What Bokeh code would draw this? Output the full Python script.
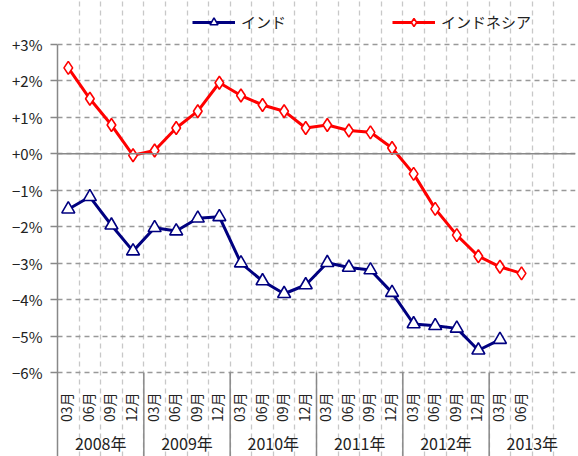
import math
from bokeh.plotting import figure
from bokeh.models import (LinearAxis, FixedTicker, Legend, LegendItem, Span, Range1d, ColumnDataSource)
from bokeh.core.properties import value
from bokeh.embed import file_html
from bokeh.resources import INLINE

# ---- data ----
years = ["2008年", "2009年", "2010年", "2011年", "2012年", "2013年"]
months = ["03月", "06月", "09月", "12月"]
month_labels = months * 5 + ["03月", "06月", "", ""]
india = [-1.52, -1.18, -1.96, -2.67, -2.03, -2.12, -1.77, -1.73,
         -3.00, -3.49, -3.84, -3.60, -2.99, -3.12, -3.19, -3.81,
         -4.67, -4.72, -4.79, -5.39, -5.10]
indonesia = [2.36, 1.51, 0.79, -0.04, 0.09, 0.71, 1.17, 1.95,
             1.60, 1.34, 1.17, 0.71, 0.79, 0.64, 0.59, 0.16,
             -0.55, -1.51, -2.23, -2.81, -3.10, -3.28]
y_ticks = [3, 2, 1, 0, -1, -2, -3, -4, -5, -6]
y_tick_labels = ["+3%", "+2%", "+1%", "+0%", "−1%", "−2%", "−3%", "−4%", "−5%", "−6%"]

FONT = "Noto Sans CJK JP"
n_cat = len(month_labels)
Y_TOP, Y_MIN = 3, -6
PX_PER_UNIT = 36.44
FRAME_H = 456
TOP_PAD = 44
Y_RANGE_TOP = Y_TOP + TOP_PAD / PX_PER_UNIT                 # legend area above +3%
Y_BOTTOM = Y_RANGE_TOP - FRAME_H / PX_PER_UNIT              # label area below -6%

p = figure(width=578, height=456, output_backend="svg", toolbar_location=None,
           x_range=Range1d(0, n_cat), y_range=Range1d(Y_BOTTOM, Y_RANGE_TOP),
           x_axis_location=None, y_axis_location=None,
           min_border_left=57, min_border_right=3, min_border_top=0, min_border_bottom=0)
p.outline_line_color = None
p.background_fill_color = "white"

# grids
p.xgrid.ticker = FixedTicker(ticks=list(range(n_cat + 1)))
p.xgrid.bounds = (Y_MIN, Y_TOP)
p.xgrid.grid_line_color = "#c8c8c8"
p.xgrid.grid_line_dash = "5 4"
p.xgrid.grid_line_width = 1.3
p.ygrid.ticker = FixedTicker(ticks=y_ticks)
p.ygrid.grid_line_color = "#999999"
p.ygrid.grid_line_dash = "5 4"
p.ygrid.grid_line_width = 1.3

p.add_layout(Span(location=0, dimension="width", line_color="#888888", line_width=1.5))

# y axis
yax = LinearAxis(ticker=FixedTicker(ticks=y_ticks), bounds=(Y_BOTTOM, Y_TOP),
                 major_label_overrides={t: l for t, l in zip(y_ticks, y_tick_labels)})
yax.axis_line_color = "#888888"
yax.axis_line_width = 1.5
yax.major_tick_line_color = "#888888"
yax.major_tick_line_width = 1.3
yax.major_tick_out = 7
yax.major_tick_in = 0
yax.minor_tick_line_color = None
yax.major_label_standoff = 8
yax.major_label_text_font = FONT
yax.major_label_text_font_size = "15px"
yax.major_label_text_color = "#222222"
p.add_layout(yax, "left")

# year separators in the label area
sep_x = list(range(4, n_cat, 4))
p.segment(x0=sep_x, y0=[Y_MIN] * len(sep_x), x1=sep_x, y1=[Y_BOTTOM] * len(sep_x),
          line_color="#888888", line_width=1.5)

# month labels (vertical, reading upwards)
month_src = ColumnDataSource(dict(x=[i + 0.5 for i in range(n_cat)],
                                  y=[Y_MIN - 20 / PX_PER_UNIT] * n_cat,
                                  t=month_labels))
p.text(x="x", y="y", text="t", source=month_src, angle=math.pi / 2,
       text_align="right", text_baseline="middle", x_offset=-2,
       text_font=value(FONT), text_font_size="14px", text_color="#222222")

# year labels
year_src = ColumnDataSource(dict(x=[4 * i + 2 for i in range(len(years))],
                                 y=[Y_MIN - 71 / PX_PER_UNIT] * len(years),
                                 t=years))
p.text(x="x", y="y", text="t", source=year_src,
       text_align="center", text_baseline="middle",
       text_font=value(FONT), text_font_size="16px", text_color="#222222")

# series
x_in = [i + 0.5 for i in range(len(india))]
x_id = [i + 0.5 for i in range(len(indonesia))]
NAVY = "#000080"
RED = "#ff0000"
l1 = p.line(x_in, india, line_color=NAVY, line_width=3)
s1 = p.scatter(x_in, india, marker="triangle", size=13, fill_color="white",
               line_color=NAVY, line_width=1.6)
l2 = p.line(x_id, indonesia, line_color=RED, line_width=3)
s2 = p.scatter(x_id, indonesia, marker="diamond", size=13, fill_color="white",
               line_color=RED, line_width=1.6)

legend = Legend(items=[LegendItem(label="インド", renderers=[l1, s1]),
                       LegendItem(label="インドネシア", renderers=[l2, s2])],
                orientation="horizontal", location=(135, FRAME_H - 22 - 10))
legend.glyph_width = 43
legend.glyph_height = 20
legend.label_standoff = 6
legend.label_width = 151
legend.spacing = 0
legend.padding = 0
legend.margin = 0
legend.border_line_color = None
legend.background_fill_alpha = 0
legend.label_text_font = FONT
legend.label_text_font_size = "15px"
legend.label_text_color = "#222222"
p.add_layout(legend, "center")

open("out.html", "w").write(file_html(p, INLINE))
